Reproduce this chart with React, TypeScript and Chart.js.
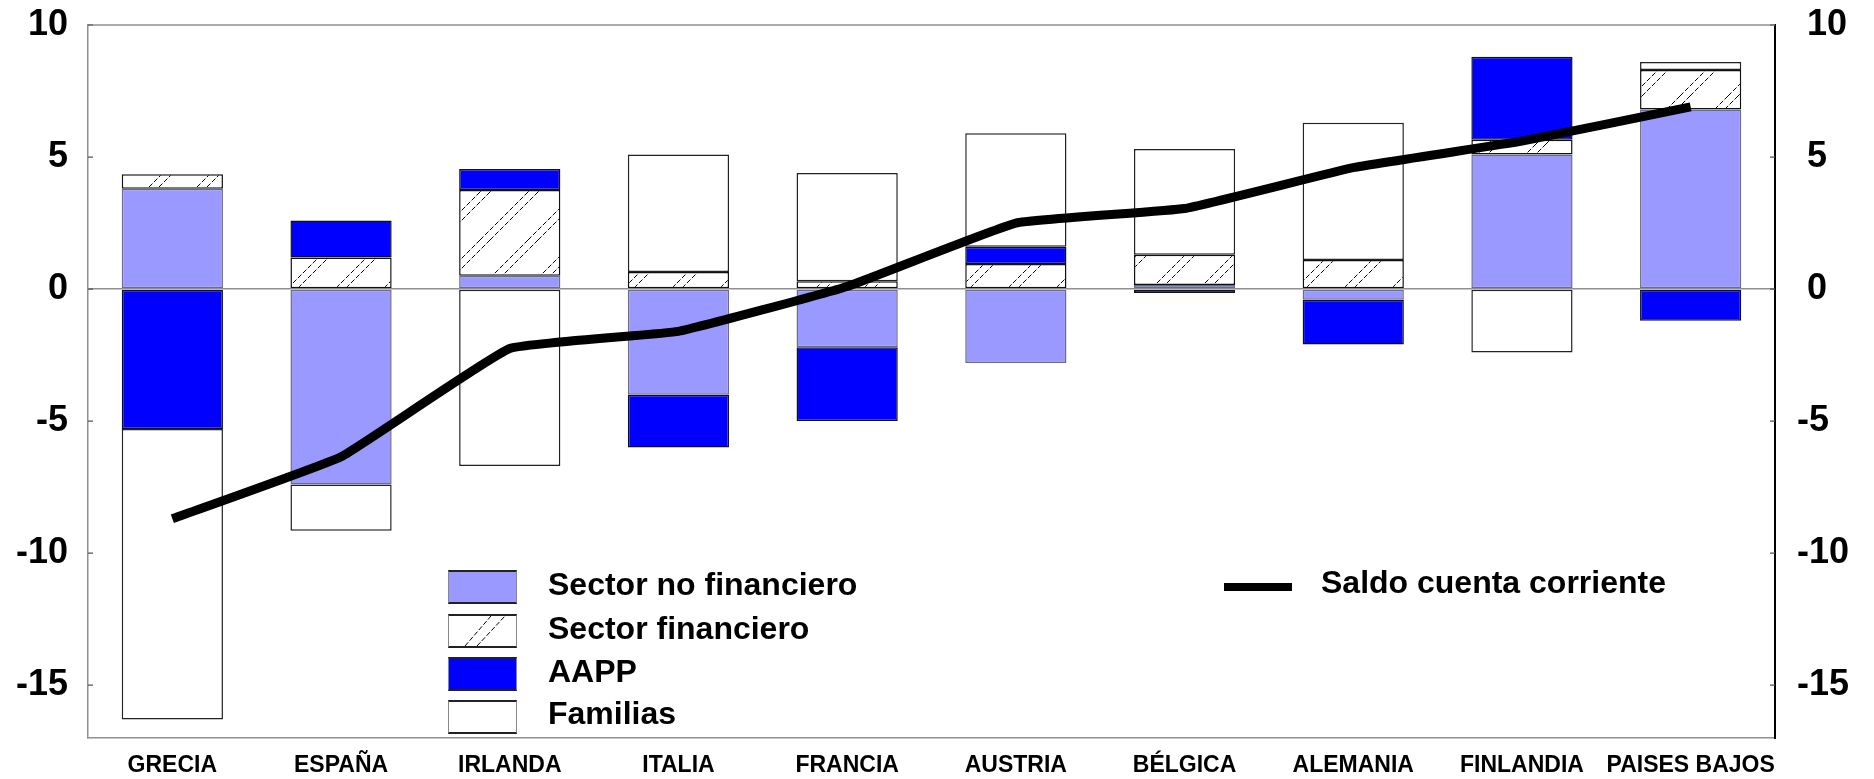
import React, { useEffect, useRef } from 'react';
import { Chart, registerables } from 'chart.js';

Chart.register(...registerables);

// ---- data ----
const categories = ['GRECIA', 'ESPAÑA', 'IRLANDA', 'ITALIA', 'FRANCIA', 'AUSTRIA', 'BÉLGICA', 'ALEMANIA', 'FINLANDIA', 'PAISES BAJOS'];
const sectorNoFinanciero = [3.8, -7.4, 0.5, -4.0, -2.2, -2.8, 0.15, -0.4, 5.1, 6.8];
const sectorFinanciero = [0.55, 1.2, 3.25, 0.65, 0.3, 0.95, 1.15, 1.1, 0.55, 1.5];
const aapp = [-5.3, 1.4, 0.8, -2.0, -2.8, 0.65, -0.15, -1.7, 3.15, -1.2];
const familias = [-11.0, -1.75, -6.7, 4.45, 4.1, 4.3, 4.0, 5.2, -2.4, 0.3];
const saldoCuentaCorriente = [-8.7, -6.35, -2.25, -1.6, 0.1, 2.5, 3.05, 4.6, 5.6, 6.9];
const yTicks = [10, 5, 0, -5, -10, -15];
const yMin = -17;
const yMax = 10;

const legendBars = ['Sector no financiero', 'Sector financiero', 'AAPP', 'Familias'];
const legendLine = 'Saldo cuenta corriente';

const FONT = "'Liberation Sans', Arial, Helvetica, sans-serif";

function makeHatch(): CanvasPattern | string {
  const s = 48;
  const c = document.createElement('canvas');
  c.width = s;
  c.height = s;
  const g = c.getContext('2d');
  if (!g) return '#fff';
  g.fillStyle = '#fff';
  g.fillRect(0, 0, s, s);
  g.strokeStyle = '#000';
  g.lineWidth = 1;
  g.setLineDash([5, 2]);
  for (const o of [0, 10]) {
    for (const k of [-s, 0, s]) {
      g.beginPath();
      g.moveTo(o + k, s);
      g.lineTo(o + k + s, 0);
      g.stroke();
    }
  }
  return g.createPattern(c, 'repeat') || '#fff';
}

const framePlugin = {
  id: 'frame',
  afterDraw(chart: any) {
    const { ctx, chartArea } = chart;
    const { left, right, top } = chartArea;
    ctx.save();
    ctx.strokeStyle = '#909090';
    ctx.lineWidth = 1.5;
    ctx.beginPath();
    ctx.moveTo(left, top);
    ctx.lineTo(right, top);
    ctx.stroke();
    const ys = chart.scales.y;
    ctx.strokeStyle = '#555';
    ctx.lineWidth = 1.2;
    for (const t of ys.ticks) {
      const py = ys.getPixelForValue(t.value);
      ctx.beginPath();
      ctx.moveTo(left, py);
      ctx.lineTo(left + 5, py);
      ctx.moveTo(right - 5, py);
      ctx.lineTo(right, py);
      ctx.stroke();
    }
    ctx.restore();
  },
};

export default function App() {
  const ref = useRef<HTMLCanvasElement | null>(null);

  useEffect(() => {
    if (!ref.current) return;
    const hatch = makeHatch();
    const barCommon = {
      type: 'bar' as const,
      stack: 'sectores',
      order: 1,
      borderSkipped: false as const,
      categoryPercentage: 1,
      barPercentage: 0.6,
      borderWidth: 1.5,
    };
    const chart = new Chart(ref.current, {
      type: 'bar',
      data: {
        labels: categories,
        datasets: [
          {
            type: 'line',
            label: legendLine,
            data: saldoCuentaCorriente,
            borderColor: '#000',
            backgroundColor: '#000',
            borderWidth: 9,
            pointRadius: 0,
            tension: 0.1,
            order: 0,
            stack: 'saldo',
            borderCapStyle: 'butt',
          } as any,
          { ...barCommon, label: legendBars[0], data: sectorNoFinanciero, backgroundColor: '#9999FF', borderColor: '#6a6a8a' },
          { ...barCommon, label: legendBars[1], data: sectorFinanciero, backgroundColor: hatch as any, borderColor: '#111' },
          { ...barCommon, label: legendBars[2], data: aapp, backgroundColor: '#0000FF', borderColor: '#111' },
          { ...barCommon, label: legendBars[3], data: familias, backgroundColor: '#FFFFFF', borderColor: '#222' },
        ],
      },
      options: {
        animation: false,
        responsive: true,
        maintainAspectRatio: false,
        layout: { padding: { top: 25, left: 0, right: 0, bottom: 0 } },
        plugins: { legend: { display: false }, tooltip: { enabled: false } },
        scales: {
          x: {
            type: 'category',
            offset: true,
            grid: { display: false, drawTicks: false },
            border: { display: true, color: '#909090', width: 1.5 },
            ticks: {
              autoSkip: false,
              maxRotation: 0,
              minRotation: 0,
              padding: 14,
              color: '#000',
              font: { family: FONT, size: 23, weight: 'bold' },
            },
            afterFit: (s: any) => { s.height = 41; s.paddingLeft = 0; s.paddingRight = 0; },
          },
          y: {
            type: 'linear',
            position: 'left',
            stacked: true,
            min: yMin,
            max: yMax,
            afterBuildTicks: (s: any) => { s.ticks = yTicks.map((v) => ({ value: v })); },
            afterFit: (s: any) => { s.width = 88; s.paddingTop = 0; s.paddingBottom = 0; },
            grid: {
              drawTicks: false,
              lineWidth: 1.5,
              color: (c: any) => (c.tick && c.tick.value === 0 ? '#909090' : 'rgba(0,0,0,0)'),
            },
            border: { display: true, color: '#909090', width: 1.5 },
            ticks: {
              padding: 20,
              color: '#000',
              font: { family: FONT, size: 36, weight: 'bold' },
              callback: (v: any) => String(v),
            },
          },
          y2: {
            type: 'linear',
            position: 'right',
            min: yMin,
            max: yMax,
            afterBuildTicks: (s: any) => { s.ticks = yTicks.map((v) => ({ value: v })); },
            afterFit: (s: any) => { s.width = 99; s.paddingTop = 0; s.paddingBottom = 0; },
            grid: { drawOnChartArea: false, drawTicks: false },
            border: { display: true, color: '#000', width: 2 },
            ticks: {
              padding: 22,
              color: '#000',
              font: { family: FONT, size: 36, weight: 'bold' },
              callback: (v: any) => (Number(v) >= 0 ? ' ' + v : String(v)),
            },
          },
        },
      } as any,
      plugins: [framePlugin],
    });
    return () => chart.destroy();
  }, []);

  const boxTops = [570, 614, 657, 700];
  const textTops = [567, 611, 654, 696];
  const boxStyle = (top: number, bg: string): React.CSSProperties => ({
    position: 'absolute',
    left: 448,
    top,
    width: 69,
    height: 34,
    boxSizing: 'border-box',
    background: bg,
    borderTop: '2px solid #222',
    borderBottom: '2px solid #222',
    borderLeft: '1.5px solid #888',
    borderRight: '1.5px solid #888',
  });
  const textStyle = (left: number, top: number): React.CSSProperties => ({
    position: 'absolute',
    left,
    top,
    fontFamily: FONT,
    fontWeight: 'bold',
    fontSize: 32,
    lineHeight: '34px',
    color: '#000',
    whiteSpace: 'nowrap',
  });

  return (
    <div style={{ position: 'absolute', left: 0, top: 0, width: 1874, height: 779, background: '#fff' }}>
      <canvas ref={ref} />
      <div style={boxStyle(boxTops[0], '#9999FF')} />
      <div style={boxStyle(boxTops[1], '#fff')}>
        <svg width="66" height="30" style={{ position: 'absolute', left: 0, top: 0 }}>
          <line x1="16" y1="30" x2="42" y2="0" stroke="#000" strokeWidth="1" strokeDasharray="5 2" />
          <line x1="28" y1="30" x2="56" y2="0" stroke="#000" strokeWidth="1" strokeDasharray="5 2" />
        </svg>
      </div>
      <div style={boxStyle(boxTops[2], '#0000FF')} />
      <div style={boxStyle(boxTops[3], '#fff')} />
      {legendBars.map((t, i) => (
        <div key={t} style={textStyle(548, textTops[i])}>{t}</div>
      ))}
      <div style={{ position: 'absolute', left: 1224, top: 583, width: 68, height: 8, background: '#000' }} />
      <div style={textStyle(1321, 565)}>{legendLine}</div>
    </div>
  );
}
